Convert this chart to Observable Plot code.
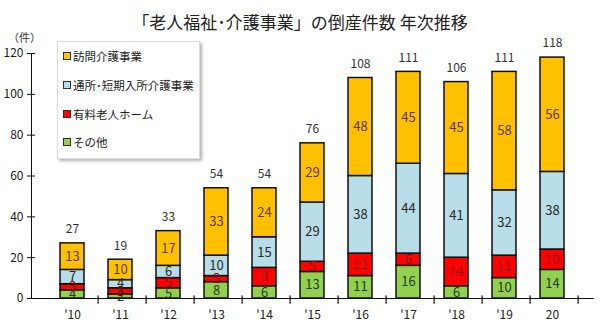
<!DOCTYPE html>
<html><head><meta charset="utf-8">
<script src="https://cdn.jsdelivr.net/npm/d3@7"></script>
<script src="https://cdn.jsdelivr.net/npm/@observablehq/plot@0.6"></script>
<style>
body{margin:0;background:#fff;font-family:"Noto Sans CJK JP",sans-serif;}
#wrap{position:relative;width:600px;height:336px;}
#title{position:absolute;left:0;width:600px;top:9px;text-align:center;font-size:17px;color:#222;}
#unit{position:absolute;left:8px;top:29px;font-size:11px;color:#333;}
#legend{position:absolute;left:57px;top:41px;width:141px;height:116px;background:#fff;border:1px solid #ddd;box-shadow:2px 2px 3px rgba(0,0,0,0.3);font-size:11.5px;color:#222;}
.li{position:absolute;left:5px;display:flex;align-items:center;white-space:nowrap;}
.sw{width:6px;height:6px;border:1px solid #333;margin-right:2px;flex:none;}
</style></head>
<body><div id="wrap"><div id="chart"></div>
<div id="title">「老人福祉･介護事業」の倒産件数 年次推移</div>
<div id="unit">（件）</div>
<div id="legend"></div></div>
<script>
const years = ["'10","'11","'12","'13","'14","'15","'16","'17","'18","'19","20"];
const seriesNames = ["その他","有料老人ホーム","通所・短期入所介護事業","訪問介護事業"];
const legendNames = ["その他","有料老人ホーム","通所･短期入所介護事業","訪問介護事業"];
const other = [4,2,5,8,6,13,11,16,6,10,14];
const nursingHome = [3,3,5,3,9,5,11,6,14,11,10];
const dayCare = [7,4,6,10,15,29,38,44,41,32,38];
const homeVisit = [13,10,17,33,24,29,48,45,45,58,56];
const totals = [27,19,33,54,54,76,108,111,106,111,118];
const yTicks = [0,20,40,60,80,100,120];
const fills = ["#92D050","#FF0000","#B7DDE8","#FFC000"];
const labelColors = ["#2b3a1a","#8a0000","#2a2a2a","#5a3a00"];

const arrays = [other, nursingHome, dayCare, homeVisit];
const data = [];
years.forEach((yr,i)=>arrays.forEach((arr,s)=>data.push({year:yr, series:seriesNames[s], value:arr[i]})));
const totalData = years.map((yr,i)=>({year:yr,total:totals[i]}));

const W=600,H=336,mL=31,mR=6;
const step=(W-mL-mR)/years.length;

const plot = Plot.plot({
  width:W, height:H, marginTop:53, marginBottom:38, marginLeft:mL, marginRight:mR,
  style:{fontFamily:'"Noto Sans CJK JP",sans-serif', fontSize:"12px", color:"#222"},
  x:{domain:years, padding:0.49, label:null},
  y:{domain:[0,120], label:null},
  color:{domain:seriesNames, range:fills},
  marks:[
    Plot.barY(data, {x:"year", y:"value", fill:"series", stroke:"#111", strokeWidth:1.5, order:seriesNames}),
    Plot.text(data, Plot.stackY({x:"year", y:"value", z:"series", order:seriesNames, text:"value", fill:d=>labelColors[seriesNames.indexOf(d.series)], fontSize:13})),
    Plot.text(totalData, {x:"year", y:"total", text:"total", dy:-14, fontSize:12, fill:"#333"}),
    Plot.frame({anchor:"left", stroke:"#111"}),
    Plot.ruleY([0], {stroke:"#111"}),
    Plot.ruleX(years, {x:d=>d, y1:1.2, y2:-2.8, dx:step/2, stroke:"#111", strokeWidth:1.2}),
    Plot.axisY({ticks:yTicks, tickSize:4, tickPadding:4, fontSize:12, stroke:"#111"}),
    Plot.axisY({ticks:yTicks, tickSize:-4, tickFormat:()=>"", stroke:"#111"}),
    Plot.axisX({tickSize:0, tickPadding:12, fontSize:12})
  ]
});
document.getElementById("chart").appendChild(plot);

const lg=document.getElementById("legend");
const order=[3,2,1,0], tops=[6,35,64,92];
order.forEach((s,k)=>{
  const d=document.createElement("div");d.className="li";d.style.top=tops[k]+"px";
  d.innerHTML=`<span class="sw" style="background:${fills[s]}"></span><span>${legendNames[s]}</span>`;
  lg.appendChild(d);
});
</script></body></html>
